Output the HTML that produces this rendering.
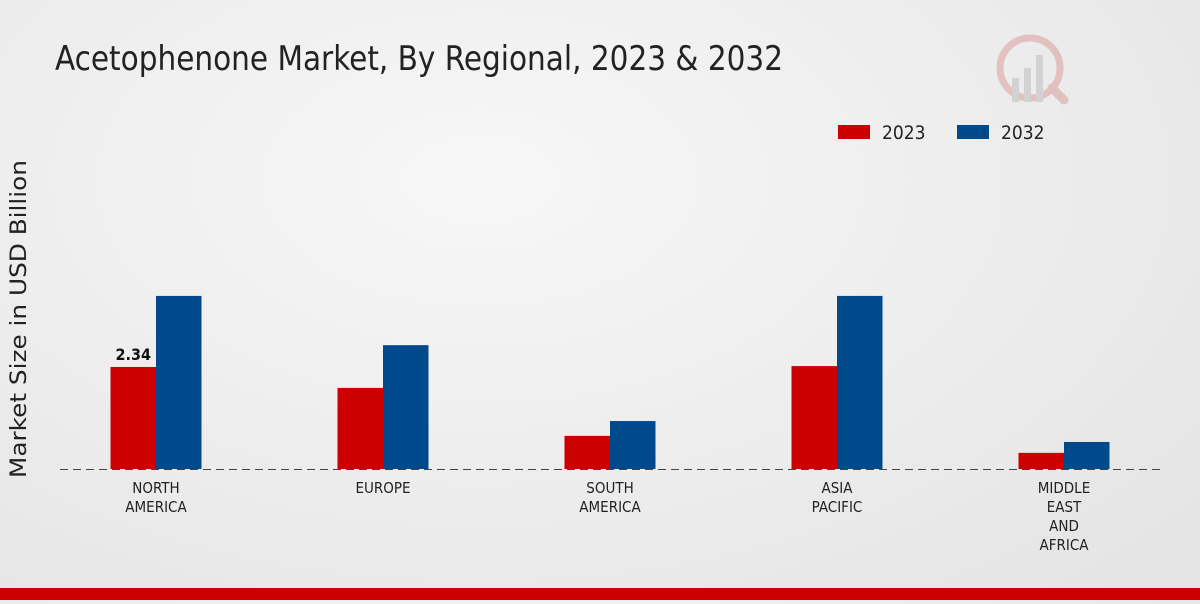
<!DOCTYPE html>
<html><head><meta charset="utf-8"><style>
body{margin:0;width:1200px;height:600px;overflow:hidden;background:radial-gradient(ellipse at 40% 30%,#f7f7f7 0%,#ebebeb 60%,#e3e3e3 100%);font-family:"DejaVu Sans Condensed","DejaVu Sans",sans-serif;}
</style></head><body>
<svg width="1200" height="600" id="c">
<text x="55" y="70" font-size="34" fill="#222" textLength="728" lengthAdjust="spacingAndGlyphs">Acetophenone Market, By Regional, 2023 &amp; 2032</text>
<text transform="translate(26,319) rotate(-90)" text-anchor="middle" font-size="22" fill="#222" font-family="DejaVu Sans,sans-serif" textLength="318" lengthAdjust="spacingAndGlyphs">Market Size in USD Billion</text>
<g>
<rect x="838" y="125" width="32" height="14" fill="#cc0000"/>
<text x="882" y="139" font-size="19" fill="#222">2023</text>
<rect x="957" y="125" width="32" height="14" fill="#004a8c"/>
<text x="1001" y="139" font-size="19" fill="#222">2032</text>
</g>
<g opacity="0.25">
<circle cx="1030" cy="68" r="30" fill="none" stroke="#c44" stroke-width="7"/>
<rect x="1012" y="78" width="7" height="24" fill="#888"/><rect x="1024" y="68" width="7" height="34" fill="#888"/><rect x="1036" y="55" width="7" height="47" fill="#888"/>
<line x1="1052" y1="88" x2="1064" y2="100" stroke="#c44" stroke-width="9" stroke-linecap="round"/>
</g>
<line x1="60" y1="469.5" x2="1160" y2="469.5" stroke="#444" stroke-dasharray="8,5"/>
<g id="bars"></g>
<rect x="0" y="588" width="1200" height="12" fill="#cc0000"/>
</svg>
<script>
const categories=[["NORTH","AMERICA"],["EUROPE"],["SOUTH","AMERICA"],["ASIA","PACIFIC"],["MIDDLE","EAST","AND","AFRICA"]];
const values2023=[2.34,1.86,0.76,2.36,0.37];
const values2032=[3.97,2.84,1.10,3.97,0.62];
const ns="http://www.w3.org/2000/svg";
const g=document.getElementById('bars');
const base=469,scale=43.6,x0=156,step=227,bw=45.5;
const y=v=>base-v*scale;
function mk(t,a){const e=document.createElementNS(ns,t);for(const k in a)e.setAttribute(k,a[k]);g.appendChild(e);return e;}
categories.forEach((cat,i)=>{
 const cx=x0+i*step;
 const r=mk('rect',{x:cx-bw,y:y(values2023[i]),width:bw,height:values2023[i]*scale,fill:'#cc0000'});
 
 
 const b=mk('rect',{x:cx,y:y(values2032[i]),width:bw,height:values2032[i]*scale,fill:'#004a8c'});
 
 
 cat.forEach((ln,j)=>{
  const t=mk('text',{x:cx,y:493+j*19,'text-anchor':'middle','font-size':15,fill:'#222'});
  t.textContent=ln;
  
  
 });
});
const lbl=mk('text',{x:x0-bw/2,y:y(values2023[0])-7,'text-anchor':'middle','font-size':16,'font-weight':'bold',fill:'#111'});
lbl.textContent=values2023[0].toFixed(2);


</script>
</body></html>
